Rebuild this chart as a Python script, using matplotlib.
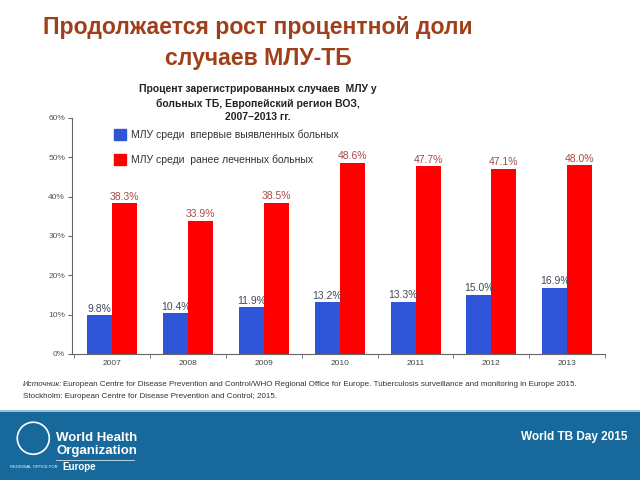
import matplotlib.pyplot as plt
import matplotlib.patches as mpatches
import numpy as np

plt.rcParams['font.family'] = ['Liberation Sans', 'DejaVu Sans']

# Data
years = ['2007', '2008', '2009', '2010', '2011', '2012', '2013']
new_cases = [9.8, 10.4, 11.9, 13.2, 13.3, 15.0, 16.9]
prev_treated = [38.3, 33.9, 38.5, 48.6, 47.7, 47.1, 48.0]
y_ticks = [0, 10, 20, 30, 40, 50, 60]

label_new = 'МЛУ среди  впервые выявленных больных'
label_prev = 'МЛУ среди  ранее леченных больных'

blue = '#2f55d8'
red = '#ff0000'

fig = plt.figure(figsize=(6.4, 4.8), dpi=100)

# Slide title
fig.text(0.403, 0.943, 'Продолжается рост процентной доли', ha='center', va='center',
         fontsize=16.6, fontweight='bold', color='#a0401b')
fig.text(0.403, 0.878, 'случаев МЛУ-ТБ', ha='center', va='center',
         fontsize=16.6, fontweight='bold', color='#a0401b')

# Chart subtitle
fig.text(0.403, 0.785, 'Процент зарегистрированных случаев  МЛУ у\nбольных ТБ, Европейский регион ВОЗ,\n2007–2013 гг.',
         ha='center', va='center', fontsize=7.5, fontweight='bold', color='#222222', linespacing=1.45)

ax = fig.add_axes([0.1125, 0.2625, 0.833, 0.4917])
x = np.arange(len(years))
w = 0.33
bars_new = ax.bar(x - w / 2, new_cases, w, color=blue)
bars_prev = ax.bar(x + w / 2, prev_treated, w, color=red)

for b, v in zip(bars_new, new_cases):
    ax.text(b.get_x() + b.get_width() / 2, v + 0.4, '{:.1f}%'.format(v), ha='center', va='bottom',
            fontsize=7.5, color='#44495a')
for b, v in zip(bars_prev, prev_treated):
    ax.text(b.get_x() + b.get_width() / 2, v + 0.4, '{:.1f}%'.format(v), ha='center', va='bottom',
            fontsize=7.5, color='#a84a4a')

ax.set_ylim(0, 60)
ax.set_xlim(-0.53, 6.4)
ax.set_yticks(y_ticks)
ax.set_yticklabels(['{}%'.format(t) for t in y_ticks])
ax.set_xticks(x)
ax.set_xticklabels(years)
ax.set_xticks(np.arange(-0.5, 6.6, 1), minor=True)
ax.tick_params(axis='x', which='major', length=0, labelsize=6, labelcolor='#444444', pad=4)
ax.tick_params(axis='x', which='minor', length=3, color='#666666')
ax.tick_params(axis='y', length=3, color='#666666', labelsize=6, labelcolor='#555555', pad=2)
for s in ['top', 'right']:
    ax.spines[s].set_visible(False)
ax.spines['left'].set_color('#666666')
ax.spines['bottom'].set_color('#666666')
ax.spines['left'].set_linewidth(0.8)
ax.spines['bottom'].set_linewidth(0.8)

# Legend drawn as boxes with labels inside the plot area
leg = ax.legend([mpatches.Patch(color=blue), mpatches.Patch(color=red)], [label_new, label_prev],
                loc='upper left', bbox_to_anchor=(0.062, 0.995), frameon=False, fontsize=7.5,
                handlelength=1.1, handleheight=1.25, labelspacing=1.4, handletextpad=0.5)
for t in leg.get_texts():
    t.set_color('#333333')

# Source note
fig.text(0.036, 0.2, 'Источник:', ha='left', va='center', fontsize=5.8, style='italic', color='#333333')
fig.text(0.098, 0.2, 'European Centre for Disease Prevention and Control/WHO Regional Office for Europe. '
         'Tuberculosis surveillance and monitoring in Europe 2015.',
         ha='left', va='center', fontsize=5.8, color='#333333')
fig.text(0.036, 0.175, 'Stockholm: European Centre for Disease Prevention and Control; 2015.',
         ha='left', va='center', fontsize=5.8, color='#333333')

# Footer band
band = fig.add_axes([0, 0, 1, 0.145])
band.set_xlim(0, 1)
band.set_ylim(0, 1)
band.axis('off')
band.add_patch(mpatches.Rectangle((0, 0), 1, 1, color='#17699b'))
band.axhline(0.99, color='#8cc4e0', lw=1.5)
band.add_patch(mpatches.Ellipse((0.052, 0.6), 0.05, 0.46, fill=False, ec='white', lw=1.2))
band.text(0.088, 0.51, 'World Health\nOrganization', ha='left', va='center', fontsize=9.5,
          fontweight='bold', color='white', linespacing=1.1)
band.plot([0.088, 0.21], [0.29, 0.29], color='white', lw=0.5)
band.text(0.016, 0.18, 'REGIONAL OFFICE FOR', ha='left', va='center', fontsize=3, color='white')
band.text(0.097, 0.18, 'Europe', ha='left', va='center', fontsize=7, fontweight='bold', color='white')
band.text(0.98, 0.62, 'World TB Day 2015', ha='right', va='center', fontsize=8.5,
          fontweight='bold', color='white')

fig.savefig('out.png', dpi=100)
